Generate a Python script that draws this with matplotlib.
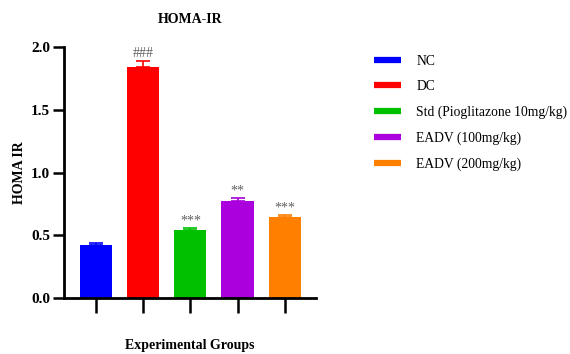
import matplotlib
matplotlib.use("Agg")
import matplotlib.pyplot as plt
from matplotlib.lines import Line2D

plt.rcParams['font.family'] = ['Liberation Serif', 'DejaVu Serif']

groups = ["NC", "DC", "Std (Pioglitazone 10mg/kg)", "EADV (100mg/kg)", "EADV (200mg/kg)"]
values = [0.42, 1.845, 0.545, 0.775, 0.645]
errors = [0.015, 0.045, 0.013, 0.02, 0.017]
marks = ["", "###", "***", "**", "***"]
colors = ["#0000ff", "#ff0000", "#00c000", "#aa00dd", "#ff8000"]

fig = plt.figure(figsize=(5.7, 3.54), dpi=100)
ax = fig.add_axes([0.1123, 0.158, 0.4417, 0.709])

x = list(range(len(groups)))
ax.bar(x, values, width=0.68, color=colors, zorder=2)
for xi, v, e, c, m in zip(x, values, errors, colors, marks):
    ax.errorbar(xi, v, yerr=[[0], [e]], color=c, capsize=5, elinewidth=1.2,
                capthick=1.2, zorder=3)
    if m:
        ax.text(xi, v + e + 0.005, m, ha='center', va='bottom', color='#606060',
                fontsize=10)

ax.set_xlim(-0.68, 4.66)
ax.set_ylim(0, 2.0)
ax.set_yticks([0.0, 0.5, 1.0, 1.5, 2.0])
ax.set_yticklabels(["0.0", "0.5", "1.0", "1.5", "2.0"], fontweight='bold', fontsize=11)
ax.set_xticks(x)
ax.set_xticklabels([""] * len(x))
ax.tick_params(axis='y', length=8, width=1.8, direction='out', pad=2)
ax.tick_params(axis='x', length=11, width=1.8, direction='out')
for s in ['top', 'right']:
    ax.spines[s].set_visible(False)
for s in ['left', 'bottom']:
    ax.spines[s].set_linewidth(2)

ax.set_title("HOMA-IR", fontweight='bold', fontsize=10, pad=17)
ax.set_ylabel("HOMA IR", fontweight='bold', fontsize=10)
ax.yaxis.set_label_coords(-0.15, 0.5)
ax.set_xlabel("Experimental Groups", fontweight='bold', fontsize=10, va='center')
ax.xaxis.set_label_coords(0.5, -0.187)

handles = [Line2D([0], [0], color=c, lw=4.5, solid_capstyle='butt') for c in colors]
fig.legend(handles, groups, loc='upper left', bbox_to_anchor=(0.635, 0.88),
           frameon=False, fontsize=9.8, handlelength=2.0, handletextpad=1.1,
           labelspacing=0.92)

fig.savefig("out.png", dpi=100)
